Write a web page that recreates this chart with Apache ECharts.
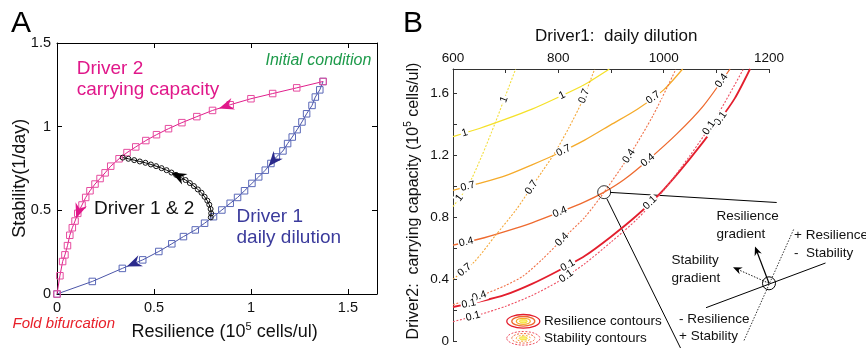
<!DOCTYPE html>
<html><head><meta charset="utf-8">
<script src="https://cdn.jsdelivr.net/npm/echarts@6/dist/echarts.min.js"></script>
<style>html,body{margin:0;padding:0;background:#fff}#c{width:866px;height:348px}</style>
</head><body><div id="c"></div>
<script>
const FONT = '"Liberation Sans", Arial, sans-serif';

// ---------- Panel A data ----------
const driver1Path = [[1.372,1.270],[1.355,1.220],[1.332,1.177],[1.315,1.127],[1.287,1.077],[1.263,1.028],[1.238,0.982],[1.213,0.938],[1.189,0.899],[1.165,0.855],[1.131,0.819],[1.103,0.780],[1.074,0.740],[1.040,0.700],[1.005,0.661],[0.967,0.617],[0.931,0.577],[0.893,0.542],[0.850,0.502],[0.807,0.462],[0.761,0.423],[0.713,0.383],[0.652,0.343],[0.592,0.300],[0.525,0.254],[0.442,0.204],[0.337,0.153],[0.182,0.075],[0.0,0.0]];
const driver2Path = [[1.372,1.270],[1.236,1.232],[1.112,1.198],[1.000,1.167],[0.893,1.131],[0.802,1.097],[0.721,1.060],[0.644,1.024],[0.575,0.988],[0.513,0.952],[0.458,0.917],[0.406,0.879],[0.361,0.845],[0.320,0.808],[0.277,0.764],[0.248,0.724],[0.222,0.690],[0.196,0.657],[0.170,0.617],[0.148,0.577],[0.129,0.532],[0.107,0.482],[0.093,0.436],[0.079,0.396],[0.066,0.351],[0.054,0.289],[0.041,0.234],[0.029,0.194],[0.015,0.109],[0.0,0.0]];
const driver12Path = [[0.793,0.458],[0.795,0.482],[0.792,0.508],[0.785,0.534],[0.775,0.558],[0.761,0.581],[0.745,0.605],[0.726,0.625],[0.706,0.645],[0.685,0.663],[0.663,0.681],[0.639,0.696],[0.614,0.712],[0.590,0.726],[0.565,0.740],[0.539,0.752],[0.511,0.764],[0.484,0.774],[0.456,0.784],[0.427,0.792],[0.398,0.800],[0.368,0.808],[0.339,0.815]];
const driver1Arrows = [[1.091,0.763],[0.36,0.164]];
const driver2Arrows = [[0.835,1.109],[0.099,0.452]];
const driver12Arrows = [[0.59,0.726]];
const xTickLabelsA = ['0','0.5','1','1.5'];
const yTickLabelsA = ['0','0.5','1','1.5'];

// ---------- Panel B data ----------
const res1  = [[600,1.323],[650,1.375],[700,1.435],[750,1.50],[800,1.577],[850,1.66],[897,1.76]];
const res07 = [[600,0.975],[650,1.02],[700,1.07],[750,1.14],[800,1.215],[850,1.30],[900,1.40],[950,1.50],[1000,1.625],[1036,1.76]];
const res04 = [[600,0.62],[650,0.66],[700,0.71],[750,0.765],[800,0.83],[850,0.90],[887,0.963],[925,1.045],[970,1.17],[1025,1.34],[1075,1.52],[1126,1.76]];
const res01 = [[600,0.22],[650,0.255],[700,0.30],[750,0.37],[800,0.455],[850,0.55],[900,0.675],[950,0.815],[1000,0.98],[1050,1.18],[1100,1.40],[1135,1.57],[1164,1.76]];
const stab1  = [[600,0.87],[628,1.0],[655,1.2],[680,1.41],[700,1.59],[719,1.76]];
const stab07 = [[600,0.40],[640,0.51],[680,0.68],[720,0.85],[746,0.98],[770,1.10],[793,1.216],[820,1.38],[845,1.55],[869,1.76]];
const stab04 = [[600,0.235],[650,0.29],[700,0.36],[733,0.42],[770,0.53],[808,0.66],[850,0.80],[887,0.963],[936,1.206],[980,1.46],[1023,1.757]];
const stab01 = [[600,0.125],[650,0.17],[700,0.225],[750,0.295],[800,0.385],[850,0.50],[900,0.64],[950,0.79],[1000,0.975],[1050,1.20],[1100,1.45],[1151,1.757]];
// [contour index, x position, text]
const contourLabels = [
  [0,622,'1'],[0,807,'1'],
  [4,697,'1'],[4,612,'1'],
  [1,628,'0.7'],[1,810,'0.7'],[1,980,'0.7'],
  [5,849,'0.7'],[5,749,'0.7'],[5,622,'0.7'],
  [2,625,'0.4'],[2,803,'0.4'],[2,970,'0.4'],[2,1110,'0.4'],
  [6,807,'0.4'],[6,934,'0.4'],[6,650,'0.4'],
  [3,630,'0.1'],[3,818,'0.1'],[3,974,'0.1'],[3,1108,'0.1'],
  [7,815,'0.1'],[7,638,'0.1'],[7,1086,'0.1']
];
const focusPoint = [[887,0.963]];
const xTickLabelsB = ['600','800','1000','1200'];
const yTickLabelsB = ['0','0.4','0.8','1.2','1.6'];

// ---------- styles ----------
const resColors  = ['#f5e12a','#f5ab2b','#ee6a2f','#e31e2d'];
const stabColors = ['#f3de3c','#f5a93a','#f07046','#ee4f62'];
const contours = [res1,res07,res04,res01,stab1,stab07,stab04,stab01];
const pathsA = [driver1Path, driver2Path, driver12Path];
const arrowColors = ['#2b2a8c','#e0188a','#000'];

function interpY(pts, x){
  for (let i=0;i<pts.length-1;i++){
    if (x>=pts[i][0] && x<=pts[i+1][0]) {
      const t=(x-pts[i][0])/(pts[i+1][0]-pts[i][0]);
      return pts[i][1]+t*(pts[i+1][1]-pts[i][1]);
    }
  }
  return pts[pts.length-1][1];
}
const labelData = contourLabels.map((l,i)=>[l[1], interpY(contours[l[0]], l[1]), l[0], i]);

function arrowPoly(tip, dx, dy, L, W){
  const px=-dy, py=dx;
  const bx=tip[0]-dx*L, by=tip[1]-dy*L;
  const nx=tip[0]-dx*L*0.68, ny=tip[1]-dy*L*0.68;
  return [tip,[bx+px*W,by+py*W],[nx,ny],[bx-px*W,by-py*W]];
}
function renderArrow(params, api){
  const x=api.value(0), y=api.value(1), pi=api.value(2);
  const path=pathsA[pi];
  let best=0, bd=Infinity;
  for (let i=0;i<path.length-1;i++){
    const mx=(path[i][0]+path[i+1][0])/2, my=(path[i][1]+path[i+1][1])/2;
    const d=(mx-x)*(mx-x)+(my-y)*(my-y);
    if (d<bd){bd=d;best=i;}
  }
  const a=api.coord(path[best]), b=api.coord(path[best+1]);
  const tip=api.coord([x,y]);
  const n=Math.hypot(b[0]-a[0],b[1]-a[1]);
  const pts=arrowPoly(tip,(b[0]-a[0])/n,(b[1]-a[1])/n,15,6);
  return {type:'polygon', shape:{points:pts}, style:{fill:arrowColors[pi]}};
}
function renderLabel(params, api){
  const x=api.value(0), y=api.value(1), ci=api.value(2), li=api.value(3);
  const pts=contours[ci];
  let i=0; while(i<pts.length-2 && pts[i+1][0]<x) i++;
  const a=api.coord(pts[i]), b=api.coord(pts[i+1]);
  const ang=Math.atan2(-(b[1]-a[1]), b[0]-a[0]);
  const p=api.coord([x,y]);
  return {type:'text', x:p[0], y:p[1], rotation:ang,
    style:{text:contourLabels[li][2], fill:'#000', font:'10.5px '+FONT, align:'center', verticalAlign:'middle', backgroundColor:'#fff', padding:[0,1]}};
}
function fmtList(labels){
  return function(v){
    for (const s of labels) { if (Math.abs(Number(s)-v) < 1e-6) return s; }
    return '';
  };
}

const axisA = {color:'#000', width:1};
const txt = (x,y,text,font,fill)=>({type:'text', x:x, y:y, style:{text:text, font:font, fill:fill||'#000', verticalAlign:'middle', align:'left'}});

const series = [];
series.push({type:'line', xAxisIndex:0, yAxisIndex:0, data:driver1Path, symbol:'rect', symbolSize:6.5,
  lineStyle:{color:'#4b55a8', width:1}, itemStyle:{color:'rgba(0,0,0,0)', borderColor:'#5a68b8', borderWidth:1}, z:2});
series.push({type:'line', xAxisIndex:0, yAxisIndex:0, data:driver2Path, symbol:'rect', symbolSize:6.5,
  lineStyle:{color:'#e01f8c', width:1}, itemStyle:{color:'rgba(0,0,0,0)', borderColor:'#e64b9f', borderWidth:1}, z:3});
series.push({type:'line', xAxisIndex:0, yAxisIndex:0, data:driver12Path, symbol:'circle', symbolSize:5,
  lineStyle:{color:'#000', width:1}, itemStyle:{color:'rgba(0,0,0,0)', borderColor:'#111', borderWidth:1}, z:4});
series.push({type:'custom', xAxisIndex:0, yAxisIndex:0, renderItem:renderArrow, z:5,
  data:[].concat(driver1Arrows.map(p=>[p[0],p[1],0]), driver2Arrows.map(p=>[p[0],p[1],1]), driver12Arrows.map(p=>[p[0],p[1],2]))});

[res1,res07,res04,res01].forEach((d,i)=>series.push({type:'line', xAxisIndex:2, yAxisIndex:2, data:d, showSymbol:false, symbol:'none',
  smooth:0.25, lineStyle:{color:resColors[i], width: i===3?1.8:1.3}, z:2}));
[stab1,stab07,stab04,stab01].forEach((d,i)=>series.push({type:'line', xAxisIndex:2, yAxisIndex:2, data:d, showSymbol:false, symbol:'none',
  smooth:0.25, lineStyle:{color:stabColors[i], width:1.1, type:[2,1.6]}, z:2}));
series.push({type:'custom', xAxisIndex:2, yAxisIndex:2, renderItem:renderLabel, data:labelData, z:6});
series.push({type:'scatter', xAxisIndex:2, yAxisIndex:2, data:focusPoint, symbol:'circle', symbolSize:13,
  itemStyle:{color:'rgba(0,0,0,0)', borderColor:'#000', borderWidth:1}, z:7});

// annotation geometry (pixels)
const c2=[769,283.3];
const gradTipR=[755,246.5], gradTipS=[733,267.2];
function headFrom(from, tip){ const n=Math.hypot(tip[0]-from[0],tip[1]-from[1]); return arrowPoly(tip,(tip[0]-from[0])/n,(tip[1]-from[1])/n,9,3.8); }

const graphic = [
  txt(11,24,'A','30px '+FONT),
  txt(403,24,'B','30px '+FONT),
  txt(76.7,68.3,'Driver 2','19px '+FONT,'#e0188a'),
  txt(76.7,89.3,'carrying capacity','19px '+FONT,'#e0188a'),
  txt(265.5,61,'Initial condition','italic 16px '+FONT,'#1d9a4a'),
  txt(94,208.3,'Driver 1 & 2','19px '+FONT,'#111'),
  txt(236.5,216.7,'Driver 1','19px '+FONT,'#3b3b9c'),
  txt(236.5,237.7,'daily dilution','19px '+FONT,'#3b3b9c'),
  txt(12.5,324.3,'Fold bifurcation','italic 15px '+FONT,'#e8202a'),
  {type:'text', x:131.5, y:332.3, style:{text:'Resilience (10{s|5} cells/ul)', font:'18px '+FONT, fill:'#111', verticalAlign:'middle', align:'left', lineHeight:22,
     rich:{s:{fontSize:11, fontFamily:FONT, lineHeight:11, verticalAlign:'top', fill:'#111'}}}},
  {type:'text', x:20.5, y:178.3, rotation:Math.PI/2, style:{text:'Stability(1/day)', font:'18px '+FONT, fill:'#111', verticalAlign:'middle', align:'center'}},
  txt(535,36.7,'Driver1:  daily dilution','17px '+FONT,'#111'),
  {type:'text', x:413.5, y:201, rotation:Math.PI/2, style:{text:'Driver2:  carrying capacity (10{s|5} cells/ul)', font:'16px '+FONT, fill:'#111', verticalAlign:'middle', align:'center', lineHeight:20,
     rich:{s:{fontSize:10, fontFamily:FONT, lineHeight:10, verticalAlign:'top', fill:'#111'}}}},
  // legend
  {type:'ellipse', shape:{cx:523.3, cy:321.3, rx:16.5, ry:6.8}, style:{fill:'none', stroke:resColors[3], lineWidth:1.3}},
  {type:'ellipse', shape:{cx:523.3, cy:321.3, rx:11.5, ry:4.8}, style:{fill:'none', stroke:resColors[2], lineWidth:1.3}},
  {type:'ellipse', shape:{cx:523.3, cy:321.3, rx:7, ry:3}, style:{fill:'none', stroke:resColors[1], lineWidth:1.3}},
  {type:'ellipse', shape:{cx:523.3, cy:321.3, rx:4, ry:1.6}, style:{fill:'#fbf07a', stroke:resColors[0], lineWidth:1}},
  {type:'ellipse', shape:{cx:523.3, cy:338.3, rx:16.5, ry:6.8}, style:{fill:'none', stroke:stabColors[3], lineWidth:1, lineDash:[2,1.5]}},
  {type:'ellipse', shape:{cx:523.3, cy:338.3, rx:11.5, ry:4.8}, style:{fill:'none', stroke:stabColors[2], lineWidth:1, lineDash:[2,1.5]}},
  {type:'ellipse', shape:{cx:523.3, cy:338.3, rx:7, ry:3}, style:{fill:'none', stroke:stabColors[1], lineWidth:1, lineDash:[2,1.5]}},
  {type:'ellipse', shape:{cx:523.3, cy:338.3, rx:4, ry:1.6}, style:{fill:'#fbf07a', stroke:stabColors[0], lineWidth:1}},
  txt(544,321.3,'Resilience contours','13.5px '+FONT,'#111'),
  txt(544,338.3,'Stability contours','13.5px '+FONT,'#111'),
  // callout lines
  {type:'line', shape:{x1:610.2, y1:192.4, x2:776.7, y2:202.5}, style:{stroke:'#000', lineWidth:1}},
  {type:'line', shape:{x1:606.8, y1:198.6, x2:680.5, y2:348}, style:{stroke:'#000', lineWidth:1}},
  // zoomed illustration
  {type:'circle', shape:{cx:c2[0], cy:c2[1], r:6.5}, style:{fill:'none', stroke:'#000', lineWidth:1}},
  {type:'line', shape:{x1:706, y1:307.7, x2:825.5, y2:263}, style:{stroke:'#000', lineWidth:1}},
  {type:'line', shape:{x1:793.6, y1:229.5, x2:744, y2:340.5}, style:{stroke:'#000', lineWidth:0.8, lineDash:[1.5,1.5]}},
  {type:'line', shape:{x1:c2[0], y1:c2[1], x2:gradTipR[0]+1.5, y2:gradTipR[1]+4}, style:{stroke:'#000', lineWidth:1.2}},
  {type:'polygon', shape:{points:headFrom(c2,gradTipR)}, style:{fill:'#000'}},
  {type:'line', shape:{x1:c2[0], y1:c2[1], x2:gradTipS[0]+4, y2:gradTipS[1]+1.9}, style:{stroke:'#000', lineWidth:0.9, lineDash:[1.5,1.5]}},
  {type:'polygon', shape:{points:headFrom(c2,gradTipS)}, style:{fill:'#000'}},
  txt(716.5,216.7,'Resilience','13.5px '+FONT,'#111'),
  txt(716.5,234.5,'gradient','13.5px '+FONT,'#111'),
  txt(671.5,260.5,'Stability','13.5px '+FONT,'#111'),
  txt(671.5,278.3,'gradient','13.5px '+FONT,'#111'),
  txt(794,235,'+ Resilience','13.5px '+FONT,'#111'),
  txt(794,253.3,'-  Stability','13.5px '+FONT,'#111'),
  txt(679,319.3,'- Resilience','13.5px '+FONT,'#111'),
  txt(679,336.5,'+ Stability','13.5px '+FONT,'#111')
];

const chart = echarts.init(document.getElementById('c'), null, {renderer:'canvas'});
chart.setOption({
  animation:false,
  backgroundColor:'#fff',
  textStyle:{fontFamily:FONT},
  grid:[
    {left:57, top:43, width:320, height:251},
    {left:453, top:69, width:316, height:273}
  ],
  xAxis:[
    {gridIndex:0, type:'value', min:0, max:1.65, interval:0.5, position:'bottom',
     axisLine:{onZero:false, lineStyle:axisA}, axisTick:{inside:true, length:5, lineStyle:axisA},
     axisLabel:{formatter:fmtList(xTickLabelsA), color:'#111', fontSize:14.5, margin:6, fontFamily:FONT}, splitLine:{show:false}},
    {gridIndex:0, type:'value', min:0, max:1.65, interval:0.5, position:'top',
     axisLine:{onZero:false, lineStyle:axisA}, axisTick:{inside:true, length:5, lineStyle:axisA}, axisLabel:{show:false}, splitLine:{show:false}},
    {gridIndex:1, type:'value', min:600, max:1200, interval:100, position:'top',
     axisLine:{onZero:false, lineStyle:{color:'#333', width:1}}, axisTick:{inside:true, length:4, lineStyle:{color:'#333'}},
     axisLabel:{formatter:fmtList(xTickLabelsB), color:'#111', fontSize:13.5, margin:4, fontFamily:FONT}, splitLine:{show:false}}
  ],
  yAxis:[
    {gridIndex:0, type:'value', min:0, max:1.5, interval:0.5, position:'left',
     axisLine:{onZero:false, lineStyle:axisA}, axisTick:{inside:true, length:5, lineStyle:axisA},
     axisLabel:{formatter:fmtList(yTickLabelsA), color:'#111', fontSize:14.5, margin:6, fontFamily:FONT}, splitLine:{show:false}},
    {gridIndex:0, type:'value', min:0, max:1.5, interval:0.5, position:'right',
     axisLine:{onZero:false, lineStyle:axisA}, axisTick:{inside:true, length:5, lineStyle:axisA}, axisLabel:{show:false}, splitLine:{show:false}},
    {gridIndex:1, type:'value', min:0, max:1.76, interval:0.2, position:'left',
     axisLine:{onZero:false, lineStyle:{color:'#333', width:1}}, axisTick:{inside:true, length:4, lineStyle:{color:'#333'}},
     axisLabel:{formatter:fmtList(yTickLabelsB), color:'#111', fontSize:13.5, margin:4, fontFamily:FONT}, splitLine:{show:false}}
  ],
  series:series,
  graphic:graphic
});
</script>
</body></html>
